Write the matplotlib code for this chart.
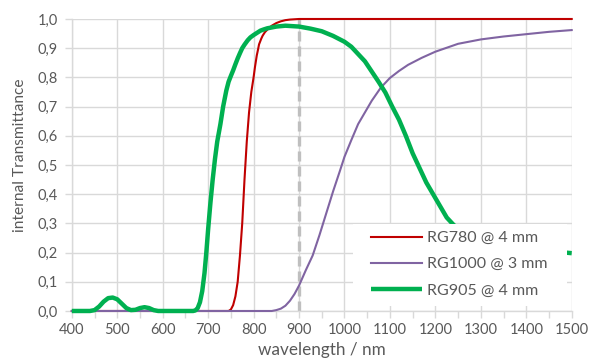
import matplotlib
matplotlib.use("Agg")
import matplotlib.pyplot as plt
from matplotlib.patches import Rectangle
from matplotlib.ticker import MultipleLocator, FuncFormatter

plt.rcParams["font.family"] = ["Lato", "DejaVu Sans"]

# RG780 @ 4 mm
rg780_wl = [400, 745, 750, 755, 760, 765, 770, 775, 780, 785, 790, 795, 800, 803, 807,
            810, 812, 817, 820, 825, 830, 840, 850, 860, 870, 880, 900, 1000, 1500]
rg780_t = [0, 0, 0.005, 0.02, 0.05, 0.1, 0.19, 0.3, 0.45, 0.58, 0.68, 0.75, 0.80, 0.835, 0.875,
           0.897, 0.913, 0.933, 0.943, 0.955, 0.963, 0.977, 0.986, 0.992, 0.996, 0.998, 1.0,
           1.0, 1.0]

# RG1000 @ 3 mm
rg1000_wl = [400, 840, 850, 860, 870, 880, 890, 900, 915, 930, 945, 960, 975, 990, 1000,
             1015, 1030, 1045, 1060, 1080, 1100, 1120, 1140, 1170, 1200, 1250, 1300,
             1350, 1400, 1450, 1500]
rg1000_t = [0, 0, 0.003, 0.008, 0.018, 0.035, 0.058, 0.087, 0.14, 0.19, 0.26, 0.335, 0.41,
            0.48, 0.528, 0.585, 0.64, 0.68, 0.72, 0.765, 0.798, 0.822, 0.843, 0.867, 0.888,
            0.915, 0.93, 0.94, 0.948, 0.956, 0.962]

# RG905 @ 4 mm
rg905_wl = [400, 440, 450, 460, 470, 480, 490, 500, 510, 520, 530, 540, 550, 560, 570, 580,
            590, 667, 672, 677, 682, 687, 692, 696, 700, 705, 710, 715, 720, 727, 733, 740,
            745, 750, 755, 760, 765, 770, 775, 780, 787, 793, 800, 808, 815, 822, 830, 840,
            850, 870, 900, 925, 950, 975, 1000, 1015, 1030, 1045, 1060, 1075, 1090, 1105,
            1120, 1135, 1150, 1165, 1180, 1195, 1210, 1225, 1240, 1260, 1300, 1350, 1400,
            1450, 1500]
rg905_t = [0, 0, 0.003, 0.015, 0.032, 0.044, 0.046, 0.04, 0.025, 0.01, 0.003, 0.004, 0.01,
           0.013, 0.01, 0.003, 0, 0, 0.002, 0.01, 0.03, 0.068, 0.13, 0.2, 0.28, 0.37, 0.45,
           0.52, 0.58, 0.64, 0.70, 0.755, 0.785, 0.805, 0.824, 0.845, 0.865, 0.883, 0.9, 0.912,
           0.927, 0.937, 0.945, 0.953, 0.96, 0.964, 0.968, 0.971, 0.974, 0.977, 0.974, 0.967,
           0.958, 0.942, 0.922, 0.905, 0.88, 0.855, 0.82, 0.785, 0.748, 0.70, 0.655, 0.60,
           0.54, 0.49, 0.44, 0.40, 0.36, 0.32, 0.295, 0.27, 0.24, 0.225, 0.213, 0.205, 0.198]

marker_wl = 900

text_col = "#595959"
grid_col = "#d9d9d9"

fig = plt.figure(figsize=(5.9, 3.63), dpi=100)
ax = fig.add_axes([0.1217, 0.1433, 0.8473, 0.8044])

ax.axvline(marker_wl, color="#bfbfbf", lw=2.4, ls=(0, (3, 1.5)), zorder=2)

ax.plot(rg780_wl, rg780_t, color="#c00000", lw=1.5, label="RG780 @ 4 mm", zorder=3,
        clip_on=False)
ax.plot(rg1000_wl, rg1000_t, color="#8064a2", lw=1.5, label="RG1000 @ 3 mm", zorder=3,
        clip_on=False)
ax.plot(rg905_wl, rg905_t, color="#00b050", lw=3.2, label="RG905 @ 4 mm", zorder=3,
        solid_capstyle="butt", solid_joinstyle="round", clip_on=False)

ax.set_xlim(400, 1500)
ax.set_ylim(0, 1.0)
ax.xaxis.set_major_locator(MultipleLocator(100))
ax.xaxis.set_minor_locator(MultipleLocator(50))
ax.yaxis.set_major_locator(MultipleLocator(0.1))
ax.yaxis.set_major_formatter(FuncFormatter(lambda v, p: f"{v:.1f}".replace(".", ",")))

ax.grid(True, which="major", color=grid_col, lw=1.0, zorder=0)
ax.set_axisbelow(True)
for s in ("top", "right"):
    ax.spines[s].set_visible(False)
for s in ("left", "bottom"):
    ax.spines[s].set_color(grid_col)
    ax.spines[s].set_linewidth(1.0)

ax.tick_params(which="both", direction="out", color=grid_col, length=5, width=1.0,
               labelcolor=text_col, labelsize=10.5)
ax.tick_params(axis="x", pad=4)
ax.tick_params(axis="y", pad=5)

ax.set_xlabel("wavelength / nm", color=text_col, fontsize=12.3, labelpad=3)
ax.set_ylabel("internal Transmittance", color=text_col, fontsize=11.2)
ax.yaxis.set_label_coords(-0.09, 0.532)

# white legend box (Excel style, wider than its content)
ax.add_patch(Rectangle((0.5625, 0.017), 0.4275, 0.281, transform=ax.transAxes,
                       facecolor="white", edgecolor="none", zorder=4))

leg = ax.legend(loc="upper left", bbox_to_anchor=(0.598, 0.274), frameon=False,
                fontsize=11.5, handlelength=3.2, handletextpad=0.3, labelspacing=0.75,
                borderpad=0, borderaxespad=0)
for t in leg.get_texts():
    t.set_color(text_col)
leg.set_zorder(5)

fig.savefig("out.png", dpi=100, facecolor="white")
